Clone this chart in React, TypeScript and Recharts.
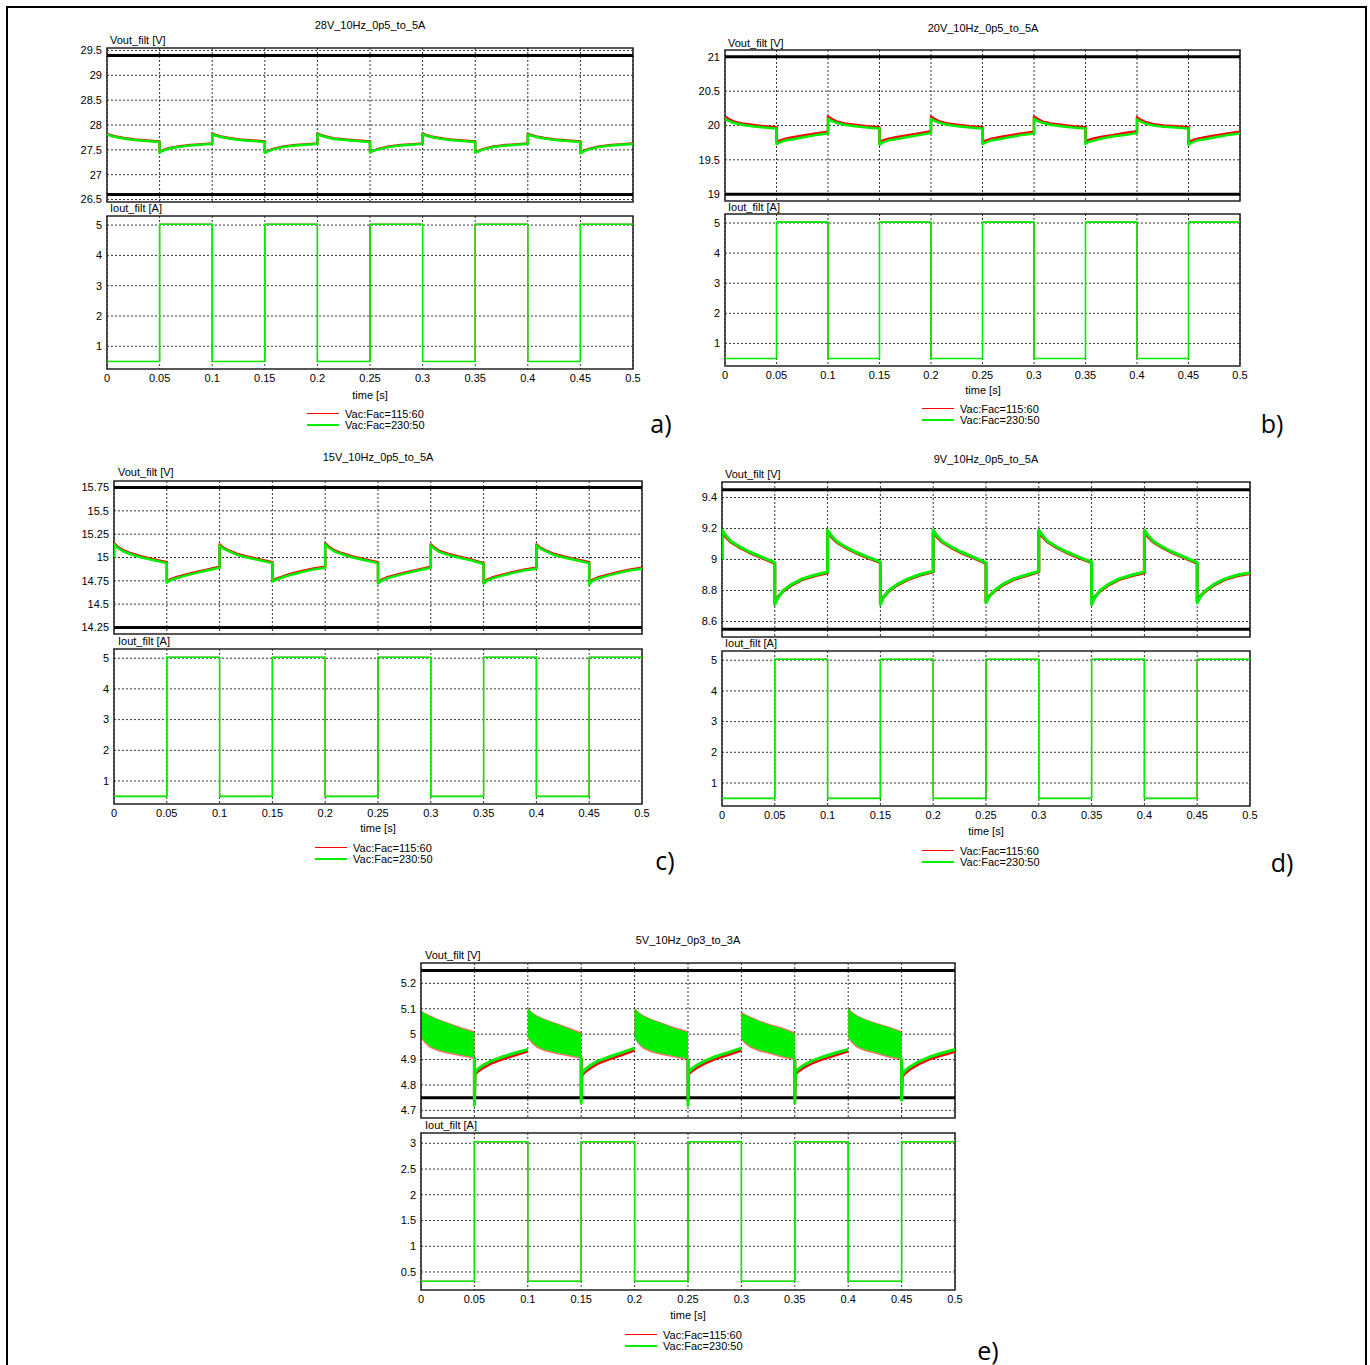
import React from 'react';
import { ComposedChart, Line, Area, XAxis, YAxis, CartesianGrid, ReferenceLine, ReferenceArea } from 'recharts';

const FONT = '"Liberation Sans", Arial, Helvetica, sans-serif';
const TAG_FONT = '"Open Sans", "Noto Sans", sans-serif';
const RED = '#ff0000';
const GREEN = '#00ee00';

// ---------- shared axis data ----------
const TIME_TICKS = [0, 0.05, 0.1, 0.15, 0.2, 0.25, 0.3, 0.35, 0.4, 0.45, 0.5];
const SEG_STARTS = [0, 0.05, 0.1, 0.15, 0.2, 0.25, 0.3, 0.35, 0.4, 0.45];
const SEG_OFFSETS = [0, 0.003, 0.008, 0.016, 0.026, 0.038, 0.05];
const E_HI_OFFSETS = [0, 0, 0.0006, 0.003, 0.008, 0.016, 0.026, 0.038, 0.05];
const LEGEND_LABELS = ['Vac:Fac=115:60', 'Vac:Fac=230:50'];
const TIME_LABEL = 'time [s]';
const V_LABEL = 'Vout_filt [V]';
const I_LABEL = 'Iout_filt [A]';

// ---------- a) 28V ----------
const A_TITLE = '28V_10Hz_0p5_to_5A';
const A_V_TICKS = [26.5, 27, 27.5, 28, 28.5, 29, 29.5];
const A_V_DOMAIN = [26.45, 29.55];
const A_V_LIMITS = [26.6, 29.4];
const A_I_TICKS = [1, 2, 3, 4, 5];
const A_I_DOMAIN = [0.25, 5.3];
const A_I_LEVELS = [0.5, 5.03, 0.5, 5.03, 0.5, 5.03, 0.5, 5.03, 0.5, 5.03];
const A_I_SPIKE = 1.65;
const A_V_GREEN = [
  [27.81, 27.79, 27.76, 27.73, 27.7, 27.68, 27.66],
  [27.45, 27.48, 27.52, 27.55, 27.58, 27.6, 27.62],
  [27.82, 27.79, 27.76, 27.73, 27.7, 27.68, 27.66],
  [27.44, 27.47, 27.51, 27.55, 27.58, 27.6, 27.62],
  [27.82, 27.79, 27.76, 27.72, 27.7, 27.68, 27.66],
  [27.45, 27.48, 27.51, 27.55, 27.58, 27.6, 27.62],
  [27.82, 27.79, 27.76, 27.73, 27.7, 27.68, 27.66],
  [27.44, 27.47, 27.51, 27.55, 27.58, 27.6, 27.62],
  [27.81, 27.79, 27.76, 27.73, 27.7, 27.68, 27.66],
  [27.43, 27.47, 27.51, 27.55, 27.58, 27.6, 27.62],
];
const A_V_RED = [
  [27.82, 27.8, 27.77, 27.74, 27.71, 27.69, 27.67],
  [27.46, 27.49, 27.53, 27.56, 27.59, 27.61, 27.63],
  [27.83, 27.8, 27.77, 27.74, 27.71, 27.69, 27.67],
  [27.45, 27.48, 27.52, 27.56, 27.59, 27.61, 27.63],
  [27.83, 27.8, 27.77, 27.73, 27.71, 27.69, 27.67],
  [27.46, 27.48, 27.52, 27.56, 27.59, 27.61, 27.63],
  [27.83, 27.8, 27.77, 27.74, 27.71, 27.69, 27.67],
  [27.45, 27.48, 27.52, 27.56, 27.59, 27.61, 27.63],
  [27.82, 27.8, 27.77, 27.74, 27.71, 27.69, 27.67],
  [27.44, 27.48, 27.52, 27.56, 27.59, 27.61, 27.63],
];

// ---------- b) 20V ----------
const B_TITLE = '20V_10Hz_0p5_to_5A';
const B_V_TICKS = [19, 19.5, 20, 20.5, 21];
const B_V_DOMAIN = [18.9, 21.1];
const B_V_LIMITS = [19, 21];
const B_I_TICKS = [1, 2, 3, 4, 5];
const B_I_DOMAIN = [0.25, 5.3];
const B_I_LEVELS = [0.5, 5.03, 0.5, 5.03, 0.5, 5.03, 0.5, 5.03, 0.5, 5.03];
const B_V_GREEN = [
  [20.1, 20.07, 20.04, 20.01, 19.99, 19.97, 19.955],
  [19.73, 19.75, 19.78, 19.8, 19.83, 19.86, 19.885],
  [20.1, 20.07, 20.04, 20.01, 19.99, 19.97, 19.955],
  [19.72, 19.75, 19.78, 19.8, 19.83, 19.86, 19.89],
  [20.1, 20.07, 20.04, 20.01, 19.99, 19.97, 19.955],
  [19.73, 19.75, 19.78, 19.8, 19.83, 19.86, 19.885],
  [20.1, 20.07, 20.04, 20.01, 19.99, 19.97, 19.955],
  [19.73, 19.76, 19.78, 19.81, 19.84, 19.86, 19.89],
  [20.09, 20.06, 20.03, 20.0, 19.98, 19.97, 19.955],
  [19.72, 19.75, 19.78, 19.8, 19.83, 19.86, 19.885],
];
const B_V_RED = [
  [20.13, 20.1, 20.06, 20.03, 20.01, 19.99, 19.975],
  [19.76, 19.78, 19.805, 19.83, 19.855, 19.885, 19.91],
  [20.13, 20.1, 20.06, 20.03, 20.01, 19.99, 19.975],
  [19.75, 19.78, 19.805, 19.83, 19.855, 19.885, 19.915],
  [20.13, 20.1, 20.06, 20.03, 20.01, 19.99, 19.975],
  [19.76, 19.78, 19.805, 19.83, 19.855, 19.885, 19.91],
  [20.13, 20.1, 20.06, 20.03, 20.01, 19.99, 19.975],
  [19.76, 19.79, 19.81, 19.835, 19.86, 19.89, 19.915],
  [20.12, 20.09, 20.05, 20.02, 20.0, 19.99, 19.975],
  [19.75, 19.78, 19.805, 19.83, 19.855, 19.885, 19.91],
];

// ---------- c) 15V ----------
const C_TITLE = '15V_10Hz_0p5_to_5A';
const C_V_TICKS = [14.25, 14.5, 14.75, 15, 15.25, 15.5, 15.75];
const C_V_DOMAIN = [14.18, 15.82];
const C_V_LIMITS = [14.25, 15.75];
const C_V_START = 15.0;
const C_I_TICKS = [1, 2, 3, 4, 5];
const C_I_DOMAIN = [0.25, 5.3];
const C_I_LEVELS = [0.5, 5.03, 0.5, 5.03, 0.5, 5.03, 0.5, 5.03, 0.5, 5.03];
const C_V_GREEN = [
  [15.14, 15.11, 15.07, 15.035, 15.0, 14.97, 14.94],
  [14.73, 14.755, 14.775, 14.8, 14.83, 14.86, 14.89],
  [15.13, 15.1, 15.07, 15.03, 15.0, 14.97, 14.94],
  [14.74, 14.76, 14.78, 14.81, 14.84, 14.87, 14.89],
  [15.14, 15.11, 15.07, 15.035, 15.0, 14.97, 14.94],
  [14.72, 14.75, 14.775, 14.8, 14.83, 14.86, 14.89],
  [15.13, 15.1, 15.06, 15.03, 15.0, 14.97, 14.93],
  [14.72, 14.75, 14.775, 14.8, 14.83, 14.86, 14.88],
  [15.13, 15.1, 15.07, 15.03, 15.0, 14.97, 14.94],
  [14.71, 14.75, 14.775, 14.8, 14.83, 14.86, 14.88],
];
const C_V_RED = [
  [15.15, 15.12, 15.08, 15.045, 15.01, 14.98, 14.95],
  [14.74, 14.765, 14.785, 14.81, 14.84, 14.87, 14.9],
  [15.14, 15.11, 15.08, 15.04, 15.01, 14.98, 14.95],
  [14.75, 14.77, 14.79, 14.82, 14.85, 14.88, 14.9],
  [15.15, 15.12, 15.08, 15.045, 15.01, 14.98, 14.95],
  [14.73, 14.76, 14.785, 14.81, 14.84, 14.87, 14.9],
  [15.14, 15.11, 15.07, 15.04, 15.01, 14.98, 14.94],
  [14.73, 14.76, 14.785, 14.81, 14.84, 14.87, 14.89],
  [15.14, 15.11, 15.08, 15.04, 15.01, 14.98, 14.95],
  [14.72, 14.76, 14.785, 14.81, 14.84, 14.87, 14.89],
];

// ---------- d) 9V ----------
const D_TITLE = '9V_10Hz_0p5_to_5A';
const D_V_TICKS = [8.6, 8.8, 9, 9.2, 9.4];
const D_V_DOMAIN = [8.5, 9.5];
const D_V_LIMITS = [8.55, 9.45];
const D_V_START = 9.0;
const D_I_TICKS = [1, 2, 3, 4, 5];
const D_I_DOMAIN = [0.25, 5.3];
const D_I_LEVELS = [0.5, 5.03, 0.5, 5.03, 0.5, 5.03, 0.5, 5.03, 0.5, 5.03];
const D_V_GREEN = [
  [9.19, 9.16, 9.12, 9.085, 9.05, 9.015, 8.98],
  [8.71, 8.755, 8.8, 8.84, 8.875, 8.9, 8.92],
  [9.19, 9.16, 9.12, 9.085, 9.05, 9.015, 8.985],
  [8.71, 8.755, 8.8, 8.84, 8.875, 8.905, 8.925],
  [9.19, 9.16, 9.12, 9.085, 9.05, 9.015, 8.98],
  [8.72, 8.76, 8.8, 8.84, 8.875, 8.9, 8.925],
  [9.19, 9.16, 9.12, 9.085, 9.05, 9.015, 8.985],
  [8.71, 8.755, 8.8, 8.84, 8.875, 8.9, 8.92],
  [9.19, 9.16, 9.12, 9.085, 9.05, 9.015, 8.98],
  [8.72, 8.76, 8.8, 8.84, 8.875, 8.9, 8.915],
];
const D_V_RED = [
  [9.18, 9.15, 9.115, 9.08, 9.045, 9.01, 8.975],
  [8.72, 8.76, 8.795, 8.835, 8.87, 8.895, 8.915],
  [9.18, 9.15, 9.115, 9.08, 9.045, 9.01, 8.98],
  [8.72, 8.76, 8.795, 8.835, 8.87, 8.9, 8.92],
  [9.18, 9.15, 9.115, 9.08, 9.045, 9.01, 8.975],
  [8.73, 8.765, 8.795, 8.835, 8.87, 8.895, 8.92],
  [9.18, 9.15, 9.115, 9.08, 9.045, 9.01, 8.98],
  [8.72, 8.76, 8.795, 8.835, 8.87, 8.895, 8.915],
  [9.18, 9.15, 9.115, 9.08, 9.045, 9.01, 8.975],
  [8.73, 8.765, 8.795, 8.835, 8.87, 8.895, 8.91],
];

// ---------- e) 5V ----------
const E_TITLE = '5V_10Hz_0p3_to_3A';
const E_V_TICKS = [4.7, 4.8, 4.9, 5, 5.1, 5.2];
const E_V_DOMAIN = [4.67, 5.28];
const E_V_LIMITS = [4.75, 5.25];
const E_I_TICKS = [0.5, 1, 1.5, 2, 2.5, 3];
const E_I_DOMAIN = [0.15, 3.2];
const E_I_LEVELS = [0.32, 3.03, 0.32, 3.03, 0.32, 3.03, 0.32, 3.03, 0.32, 3.03];
// light-load segments: ripple band (top / bottom edges)
const E_GREEN_HI = [
  [5.09, 5.08, 5.07, 5.055, 5.04, 5.02, 5.005],
  [5.1, 5.085, 5.07, 5.055, 5.04, 5.02, 5.0],
  [5.1, 5.085, 5.07, 5.055, 5.04, 5.02, 5.005],
  [5.08, 5.075, 5.065, 5.05, 5.035, 5.02, 5.0],
  [5.1, 5.085, 5.07, 5.055, 5.04, 5.025, 5.005],
];
const E_GREEN_LO = [
  [4.99, 4.975, 4.955, 4.94, 4.93, 4.92, 4.91],
  [4.99, 4.975, 4.955, 4.94, 4.93, 4.92, 4.91],
  [4.99, 4.97, 4.95, 4.935, 4.925, 4.915, 4.905],
  [4.985, 4.97, 4.955, 4.94, 4.93, 4.915, 4.905],
  [4.99, 4.975, 4.955, 4.94, 4.93, 4.915, 4.905],
];
const E_RED_HI = [
  [5.095, 5.085, 5.075, 5.06, 5.045, 5.027, 5.012],
  [5.105, 5.09, 5.075, 5.06, 5.045, 5.027, 5.008],
  [5.105, 5.09, 5.075, 5.06, 5.045, 5.027, 5.012],
  [5.088, 5.08, 5.07, 5.056, 5.041, 5.027, 5.008],
  [5.105, 5.09, 5.075, 5.06, 5.045, 5.03, 5.012],
];
const E_RED_LO = [
  [4.984, 4.966, 4.946, 4.932, 4.922, 4.912, 4.902],
  [4.984, 4.966, 4.946, 4.932, 4.922, 4.912, 4.902],
  [4.984, 4.962, 4.942, 4.927, 4.917, 4.907, 4.897],
  [4.979, 4.962, 4.946, 4.932, 4.922, 4.907, 4.897],
  [4.984, 4.966, 4.946, 4.932, 4.922, 4.907, 4.897],
];
// heavy-load segments: end of band, spike, recovery
const E_GREEN_LINE = [
  [4.91, 4.72, 4.85, 4.862, 4.877, 4.895, 4.91, 4.926, 4.94],
  [4.91, 4.73, 4.845, 4.858, 4.875, 4.895, 4.91, 4.927, 4.945],
  [4.905, 4.72, 4.85, 4.862, 4.877, 4.895, 4.912, 4.928, 4.945],
  [4.905, 4.73, 4.85, 4.862, 4.877, 4.895, 4.91, 4.926, 4.94],
  [4.905, 4.74, 4.84, 4.855, 4.872, 4.892, 4.91, 4.926, 4.94],
];
const E_RED_LINE = [
  [4.905, 4.74, 4.843, 4.853, 4.868, 4.886, 4.902, 4.918, 4.933],
  [4.905, 4.75, 4.838, 4.85, 4.866, 4.886, 4.902, 4.919, 4.937],
  [4.9, 4.74, 4.843, 4.853, 4.868, 4.886, 4.904, 4.92, 4.937],
  [4.9, 4.75, 4.843, 4.853, 4.868, 4.886, 4.902, 4.918, 4.933],
  [4.9, 4.76, 4.833, 4.846, 4.863, 4.883, 4.902, 4.918, 4.932],
];

// ---------- builders ----------
type Pt = { t: number; v: number };
const rt = (x: number) => Math.round(x * 100000) / 100000;

function buildV(rows: number[][], start?: number): Pt[] {
  const out: Pt[] = [];
  if (start !== undefined) out.push({ t: 0, v: start });
  rows.forEach((row, k) => row.forEach((v, j) => out.push({ t: rt(SEG_STARTS[k] + SEG_OFFSETS[j]), v })));
  return out;
}
function buildI(levels: number[], spike?: number): Pt[] {
  const out: Pt[] = [];
  if (spike !== undefined) out.push({ t: 0, v: spike });
  levels.forEach((lv, k) => {
    out.push({ t: SEG_STARTS[k], v: lv });
    out.push({ t: rt(SEG_STARTS[k] + 0.05), v: lv });
  });
  return out;
}
function buildBand(hi: number[], lo: number[], k: number) {
  return hi.map((h, j) => ({ t: rt(SEG_STARTS[k] + SEG_OFFSETS[j]), band: [lo[j], h] }));
}
function buildSpikeLine(row: number[], k: number): Pt[] {
  return row.map((v, j) => ({ t: rt(SEG_STARTS[k] + E_HI_OFFSETS[j]), v }));
}

function line(key: string, data: any[], color: string, width: number) {
  return (
    <Line
      key={key}
      data={data}
      dataKey="v"
      type="linear"
      stroke={color}
      strokeWidth={width}
      dot={false}
      activeDot={false}
      isAnimationActive={false}
      strokeLinejoin="round"
    />
  );
}

function voltageSeries(red: number[][], green: number[][], gw: number, start?: number) {
  return [line('vr', buildV(red, start), RED, gw), line('vg', buildV(green, start), GREEN, gw)];
}
function currentSeries(levels: number[], spike?: number) {
  return [line('ir', buildI(levels, spike), RED, 1), line('ig', buildI(levels), GREEN, 1.6)];
}
function eVoltageSeries() {
  const out: any[] = [];
  [0, 2, 4, 6, 8].forEach((k, n) => {
    out.push(
      <Area
        key={'rb' + k}
        data={buildBand(E_RED_HI[n], E_RED_LO[n], k)}
        dataKey="band"
        type="linear"
        stroke="none"
        fill={RED}
        fillOpacity={0.55}
        dot={false}
        activeDot={false}
        isAnimationActive={false}
      />
    );
    out.push(
      <Area
        key={'gb' + k}
        data={buildBand(E_GREEN_HI[n], E_GREEN_LO[n], k)}
        dataKey="band"
        type="linear"
        stroke={GREEN}
        strokeWidth={1}
        fill={GREEN}
        fillOpacity={1}
        dot={false}
        activeDot={false}
        isAnimationActive={false}
      />
    );
  });
  [1, 3, 5, 7, 9].forEach((k, n) => {
    out.push(line('rl' + k, buildSpikeLine(E_RED_LINE[n], k), RED, 3));
    out.push(line('gl' + k, buildSpikeLine(E_GREEN_LINE[n], k), GREEN, 3));
  });
  return out;
}

// ---------- plot component ----------
const YW = 52;
const PAD = 4;
const PAD_R = 16;
const XH = 22;
const tickStyle = { fontSize: 11, fill: '#000', fontFamily: FONT };

type Frame = { left: number; top: number; width: number; height: number };

function Plot(props: {
  frame: Frame;
  domain: number[];
  ticks: number[];
  showX: boolean;
  limits?: number[];
  series: any[];
}) {
  const { frame, domain, ticks, showX, limits = [], series } = props;
  const W = frame.width + YW + PAD + PAD_R;
  const H = frame.height + PAD + (showX ? XH : PAD);
  return (
    <div style={{ position: 'absolute', left: frame.left - YW - PAD, top: frame.top - PAD, width: W, height: H }}>
      <ComposedChart width={W} height={H} margin={{ top: PAD, right: PAD_R, left: PAD, bottom: showX ? 0 : PAD }}>
        <CartesianGrid
          stroke="#333"
          strokeDasharray="2 2"
          strokeWidth={1}
          horizontalValues={ticks}
          verticalValues={TIME_TICKS}
        />
        <XAxis
          type="number"
          dataKey="t"
          domain={[0, 0.5]}
          ticks={TIME_TICKS}
          interval={0}
          hide={!showX}
          height={XH}
          tick={tickStyle}
          tickLine={false}
          axisLine={false}
          tickSize={3}
          tickMargin={2}
          allowDataOverflow
        />
        <YAxis
          type="number"
          domain={domain as any}
          ticks={ticks}
          interval={0}
          width={YW}
          tick={tickStyle}
          tickLine={false}
          axisLine={false}
          tickSize={3}
          tickMargin={2}
          allowDataOverflow
        />
        {limits.map((y) => (
          <ReferenceLine key={'lim' + y} y={y} stroke="#000" strokeWidth={3} ifOverflow="extendDomain" />
        ))}
        {series}
        <ReferenceArea
          x1={0}
          x2={0.5}
          y1={domain[0]}
          y2={domain[1]}
          fill="none"
          fillOpacity={0}
          stroke="#222"
          strokeWidth={1.5}
        />
      </ComposedChart>
    </div>
  );
}

// ---------- text helpers ----------
function Txt(p: { x: number; y: number; text: string; center?: boolean; size?: number; font?: string }) {
  return (
    <div
      style={{
        position: 'absolute',
        left: p.x,
        top: p.y,
        transform: `translate(${p.center ? '-50%' : '0'}, -50%)`,
        fontSize: p.size ?? 11,
        fontFamily: p.font ?? FONT,
        lineHeight: 1,
        whiteSpace: 'nowrap',
        color: '#000',
      }}
    >
      {p.text}
    </div>
  );
}

function LegendBlock({ x, y }: { x: number; y: number }) {
  const colors = [RED, GREEN];
  return (
    <>
      {LEGEND_LABELS.map((lab, i) => (
        <React.Fragment key={lab}>
          <div
            style={{
              position: 'absolute',
              left: x,
              top: Math.round(y + i * 11) - 1,
              width: 32,
              height: i === 0 ? 1 : 2,
              background: colors[i],
            }}
          />
          <Txt x={x + 38} y={y + i * 11} text={lab} />
        </React.Fragment>
      ))}
    </>
  );
}

type PanelCfg = {
  title: string;
  titlePos: [number, number];
  vLabelPos: [number, number];
  iLabelPos: [number, number];
  vFrame: Frame;
  iFrame: Frame;
  vDomain: number[];
  vTicks: number[];
  vLimits: number[];
  iDomain: number[];
  iTicks: number[];
  vSeries: any[];
  iSeries: any[];
  timePos: [number, number];
  legendPos: [number, number];
  tag: string;
  tagPos: [number, number];
};

const PANELS: PanelCfg[] = [
  {
    title: A_TITLE,
    titlePos: [370, 25],
    vLabelPos: [110, 40],
    iLabelPos: [110, 208],
    vFrame: { left: 107, top: 47.5, width: 526, height: 154 },
    iFrame: { left: 107, top: 216, width: 526, height: 153 },
    vDomain: A_V_DOMAIN,
    vTicks: A_V_TICKS,
    vLimits: A_V_LIMITS,
    iDomain: A_I_DOMAIN,
    iTicks: A_I_TICKS,
    vSeries: voltageSeries(A_V_RED, A_V_GREEN, 2.5),
    iSeries: currentSeries(A_I_LEVELS, A_I_SPIKE),
    timePos: [370, 395],
    legendPos: [307, 414],
    tag: 'a)',
    tagPos: [661, 423],
  },
  {
    title: B_TITLE,
    titlePos: [983, 28],
    vLabelPos: [728, 43],
    iLabelPos: [728, 207],
    vFrame: { left: 725, top: 50, width: 515, height: 151 },
    iFrame: { left: 725, top: 214, width: 515, height: 152 },
    vDomain: B_V_DOMAIN,
    vTicks: B_V_TICKS,
    vLimits: B_V_LIMITS,
    iDomain: B_I_DOMAIN,
    iTicks: B_I_TICKS,
    vSeries: voltageSeries(B_V_RED, B_V_GREEN, 2.5),
    iSeries: currentSeries(B_I_LEVELS),
    timePos: [983, 390],
    legendPos: [922, 409],
    tag: 'b)',
    tagPos: [1272, 423],
  },
  {
    title: C_TITLE,
    titlePos: [378, 457],
    vLabelPos: [118, 472],
    iLabelPos: [118, 641],
    vFrame: { left: 114, top: 480.5, width: 528, height: 153 },
    iFrame: { left: 114, top: 649, width: 528, height: 155 },
    vDomain: C_V_DOMAIN,
    vTicks: C_V_TICKS,
    vLimits: C_V_LIMITS,
    iDomain: C_I_DOMAIN,
    iTicks: C_I_TICKS,
    vSeries: voltageSeries(C_V_RED, C_V_GREEN, 2.5, C_V_START),
    iSeries: currentSeries(C_I_LEVELS),
    timePos: [378, 828],
    legendPos: [315, 848],
    tag: 'c)',
    tagPos: [665, 860],
  },
  {
    title: D_TITLE,
    titlePos: [986, 459],
    vLabelPos: [725, 474],
    iLabelPos: [725, 643],
    vFrame: { left: 722, top: 481.5, width: 528, height: 155 },
    iFrame: { left: 722, top: 651, width: 528, height: 155 },
    vDomain: D_V_DOMAIN,
    vTicks: D_V_TICKS,
    vLimits: D_V_LIMITS,
    iDomain: D_I_DOMAIN,
    iTicks: D_I_TICKS,
    vSeries: voltageSeries(D_V_RED, D_V_GREEN, 3, D_V_START),
    iSeries: currentSeries(D_I_LEVELS),
    timePos: [986, 831],
    legendPos: [922, 851],
    tag: 'd)',
    tagPos: [1282, 862],
  },
  {
    title: E_TITLE,
    titlePos: [688, 940],
    vLabelPos: [425, 955],
    iLabelPos: [425, 1125],
    vFrame: { left: 421, top: 963, width: 534, height: 155 },
    iFrame: { left: 421, top: 1133, width: 534, height: 157 },
    vDomain: E_V_DOMAIN,
    vTicks: E_V_TICKS,
    vLimits: E_V_LIMITS,
    iDomain: E_I_DOMAIN,
    iTicks: E_I_TICKS,
    vSeries: eVoltageSeries(),
    iSeries: currentSeries(E_I_LEVELS),
    timePos: [688, 1315],
    legendPos: [625, 1335],
    tag: 'e)',
    tagPos: [988, 1350],
  },
];

function Panel({ cfg }: { cfg: PanelCfg }) {
  return (
    <>
      <Txt x={cfg.titlePos[0]} y={cfg.titlePos[1]} text={cfg.title} center />
      <Txt x={cfg.vLabelPos[0]} y={cfg.vLabelPos[1]} text={V_LABEL} />
      <Txt x={cfg.iLabelPos[0]} y={cfg.iLabelPos[1]} text={I_LABEL} />
      <Plot frame={cfg.vFrame} domain={cfg.vDomain} ticks={cfg.vTicks} showX={false} limits={cfg.vLimits} series={cfg.vSeries} />
      <Plot frame={cfg.iFrame} domain={cfg.iDomain} ticks={cfg.iTicks} showX={true} series={cfg.iSeries} />
      <Txt x={cfg.timePos[0]} y={cfg.timePos[1]} text={TIME_LABEL} center />
      <LegendBlock x={cfg.legendPos[0]} y={cfg.legendPos[1]} />
      <Txt x={cfg.tagPos[0]} y={cfg.tagPos[1]} text={cfg.tag} center size={25} font={TAG_FONT} />
    </>
  );
}

export default function App() {
  return (
    <div
      style={{
        position: 'absolute',
        left: 0,
        top: 0,
        width: 1370,
        height: 1365,
        overflow: 'hidden',
        background: '#fff',
      }}
    >
      <div
        style={{
          position: 'absolute',
          left: 6,
          top: 6,
          width: 1361,
          height: 1400,
          border: '2px solid #000',
          boxSizing: 'border-box',
        }}
      />
      {PANELS.map((p) => (
        <Panel key={p.title} cfg={p} />
      ))}
    </div>
  );
}
